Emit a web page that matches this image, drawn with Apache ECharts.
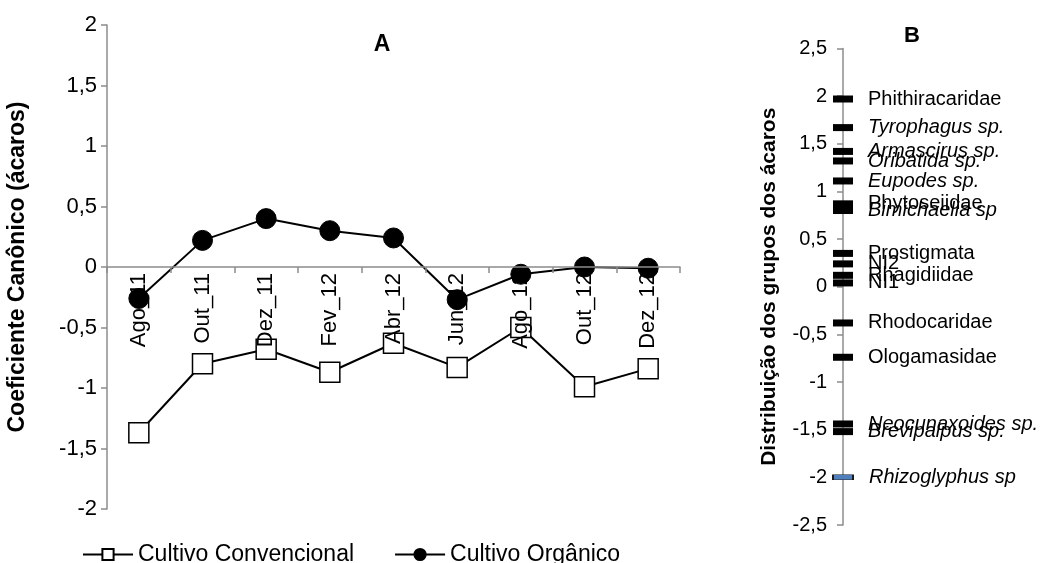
<!DOCTYPE html>
<html>
<head>
<meta charset="utf-8">
<script src="https://cdn.jsdelivr.net/npm/echarts@6/dist/echarts.min.js"></script>
<style>
  html, body { margin: 0; padding: 0; background: #fff; }
  #chart { width: 1050px; height: 563px; }
</style>
</head>
<body>
<div id="chart"></div>
<script>
// ---- Panel A data ----
const months = ['Ago_11', 'Out_11', 'Dez_11', 'Fev_12', 'Abr_12', 'Jun_12', 'Ago_12', 'Out_12', 'Dez_12'];
const cultivoConvencional = [-1.37, -0.80, -0.68, -0.87, -0.63, -0.83, -0.50, -0.99, -0.84];
const cultivoOrganico = [-0.26, 0.22, 0.40, 0.30, 0.24, -0.27, -0.06, 0.00, -0.01];
const seriesNames = ['Cultivo Convencional', 'Cultivo Orgânico'];

// ---- Panel B data ----
const miteGroups = ['Phithiracaridae', 'Tyrophagus sp.', 'Armascirus sp.', 'Oribatida sp.', 'Eupodes sp.',
  'Phytoseiidae', 'Bimichaelia sp', 'Prostigmata', 'NI2', 'Rhagidiidae', 'NI1', 'Rhodocaridae',
  'Ologamasidae', 'Neocunaxoides sp.', 'Brevipalpus sp.', 'Rhizoglyphus sp'];
const miteScores = [1.97, 1.67, 1.42, 1.32, 1.11, 0.87, 0.80, 0.35, 0.24, 0.12, 0.04, -0.38, -0.74, -1.44, -1.52, -2.00];

// layout-only: small vertical nudges of the B labels (px)
const labelNudge = [-6, -6, -3, 6, 1, -1, 5, 0, -2, 2, 8, 2, 0, -6, 6, 0];
const blueGroup = 'Rhizoglyphus sp';

const FONT = '"Liberation Sans", Arial, sans-serif';
const AXIS_GRAY = '#8c8c8c';
const fmt = v => String(v).replace('.', ',');

const chart = echarts.init(document.getElementById('chart'), null, { renderer: 'canvas' });

const bData = miteGroups.map((name, i) => {
  const italic = /\ssp\.?$/.test(name);
  const isBlue = name === blueGroup;
  return {
    name: name,
    value: [0, miteScores[i]],
    symbolSize: isBlue ? [20, 5] : [20, 7],
    itemStyle: isBlue
      ? { color: '#4f7fbf', borderColor: '#1a1a1a', borderWidth: 1, opacity: 1 }
      : { color: '#000', opacity: 1 },
    label: { fontStyle: italic ? 'italic' : 'normal', offset: [0, labelNudge[i]] }
  };
});

const gridA = { left: 107, right: 370, top: 25, bottom: 54 };
const plotHeightA = 563 - gridA.top - gridA.bottom;
const yMinA = -2, yMaxA = 2;
// distance from grid bottom to the zero line (axis crosses at 0)
const zeroOffset = -plotHeightA * (0 - yMinA) / (yMaxA - yMinA);

const option = {
  backgroundColor: '#fff',
  animation: false,
  textStyle: { fontFamily: FONT, color: '#000' },
  title: [
    { text: 'A', left: 377, top: 28, textAlign: 'center',
      textStyle: { fontFamily: FONT, fontSize: 23, fontWeight: 'bold', color: '#000' } },
    { text: 'B', left: 907, top: 20, textAlign: 'center',
      textStyle: { fontFamily: FONT, fontSize: 22, fontWeight: 'bold', color: '#000' } }
  ],
  legend: {
    data: seriesNames,
    left: 77,
    top: 538,
    itemWidth: 50,
    itemHeight: 14,
    itemGap: 40,
    textStyle: { fontFamily: FONT, fontSize: 23, color: '#000' }
  },
  grid: [
    Object.assign({ outerBoundsMode: 'none', containLabel: false }, gridA),
    { left: 843, width: 100, top: 48.5, bottom: 38, outerBoundsMode: 'none', containLabel: false }
  ],
  xAxis: [
    {
      gridIndex: 0,
      type: 'category',
      data: months,
      boundaryGap: true,
      position: 'bottom',
      offset: zeroOffset,
      z: 10,
      axisLine: { onZero: false, lineStyle: { color: AXIS_GRAY, width: 1.5 } },
      axisTick: { show: true, length: 6, lineStyle: { color: AXIS_GRAY, width: 1.5 } },
      axisLabel: { rotate: 90, margin: 6, fontFamily: FONT, fontSize: 22, color: '#000', hideOverlap: false },
      splitLine: { show: false }
    },
    {
      gridIndex: 1,
      type: 'value',
      min: 0,
      max: 1,
      show: false
    }
  ],
  yAxis: [
    {
      gridIndex: 0,
      type: 'value',
      min: yMinA,
      max: yMaxA,
      interval: 0.5,
      name: 'Coeficiente Canônico (ácaros)',
      nameLocation: 'middle',
      nameGap: 78,
      nameTextStyle: { fontFamily: FONT, fontSize: 23, fontWeight: 'bold', color: '#000' },
      axisLine: { show: true, lineStyle: { color: AXIS_GRAY, width: 1.5 } },
      axisTick: { show: true, length: 6, lineStyle: { color: AXIS_GRAY, width: 1.5 } },
      axisLabel: { margin: 10, fontFamily: FONT, fontSize: 22, color: '#000', formatter: fmt },
      splitLine: { show: false }
    },
    {
      gridIndex: 1,
      type: 'value',
      min: -2.5,
      max: 2.5,
      interval: 0.5,
      name: 'Distribuição dos grupos dos ácaros',
      nameLocation: 'middle',
      nameGap: 63,
      nameTextStyle: { fontFamily: FONT, fontSize: 21, fontWeight: 'bold', color: '#000' },
      axisLine: { show: true, lineStyle: { color: AXIS_GRAY, width: 1.5 } },
      axisTick: { show: true, length: 6, lineStyle: { color: AXIS_GRAY, width: 1.5 } },
      axisLabel: { margin: 16, fontFamily: FONT, fontSize: 20, color: '#000', formatter: fmt },
      splitLine: { show: false }
    }
  ],
  series: [
    {
      name: seriesNames[0],
      type: 'line',
      xAxisIndex: 0,
      yAxisIndex: 0,
      data: cultivoConvencional,
      symbol: 'rect',
      symbolSize: 20,
      lineStyle: { color: '#000', width: 2 },
      itemStyle: { color: '#fff', borderColor: '#000', borderWidth: 1.5 },
      z: 3
    },
    {
      name: seriesNames[1],
      type: 'line',
      xAxisIndex: 0,
      yAxisIndex: 0,
      data: cultivoOrganico,
      symbol: 'circle',
      symbolSize: 20,
      lineStyle: { color: '#000', width: 2 },
      itemStyle: { color: '#000', borderColor: '#000', borderWidth: 1 },
      z: 3
    },
    {
      name: 'Grupos',
      type: 'scatter',
      xAxisIndex: 1,
      yAxisIndex: 1,
      symbol: 'rect',
      data: bData,
      label: {
        show: true,
        position: 'right',
        distance: 15,
        formatter: p => p.name,
        fontFamily: FONT,
        fontSize: 20,
        color: '#000'
      },
      labelLayout: { hideOverlap: false },
      z: 3
    }
  ]
};

chart.setOption(option);
</script>
</body>
</html>
